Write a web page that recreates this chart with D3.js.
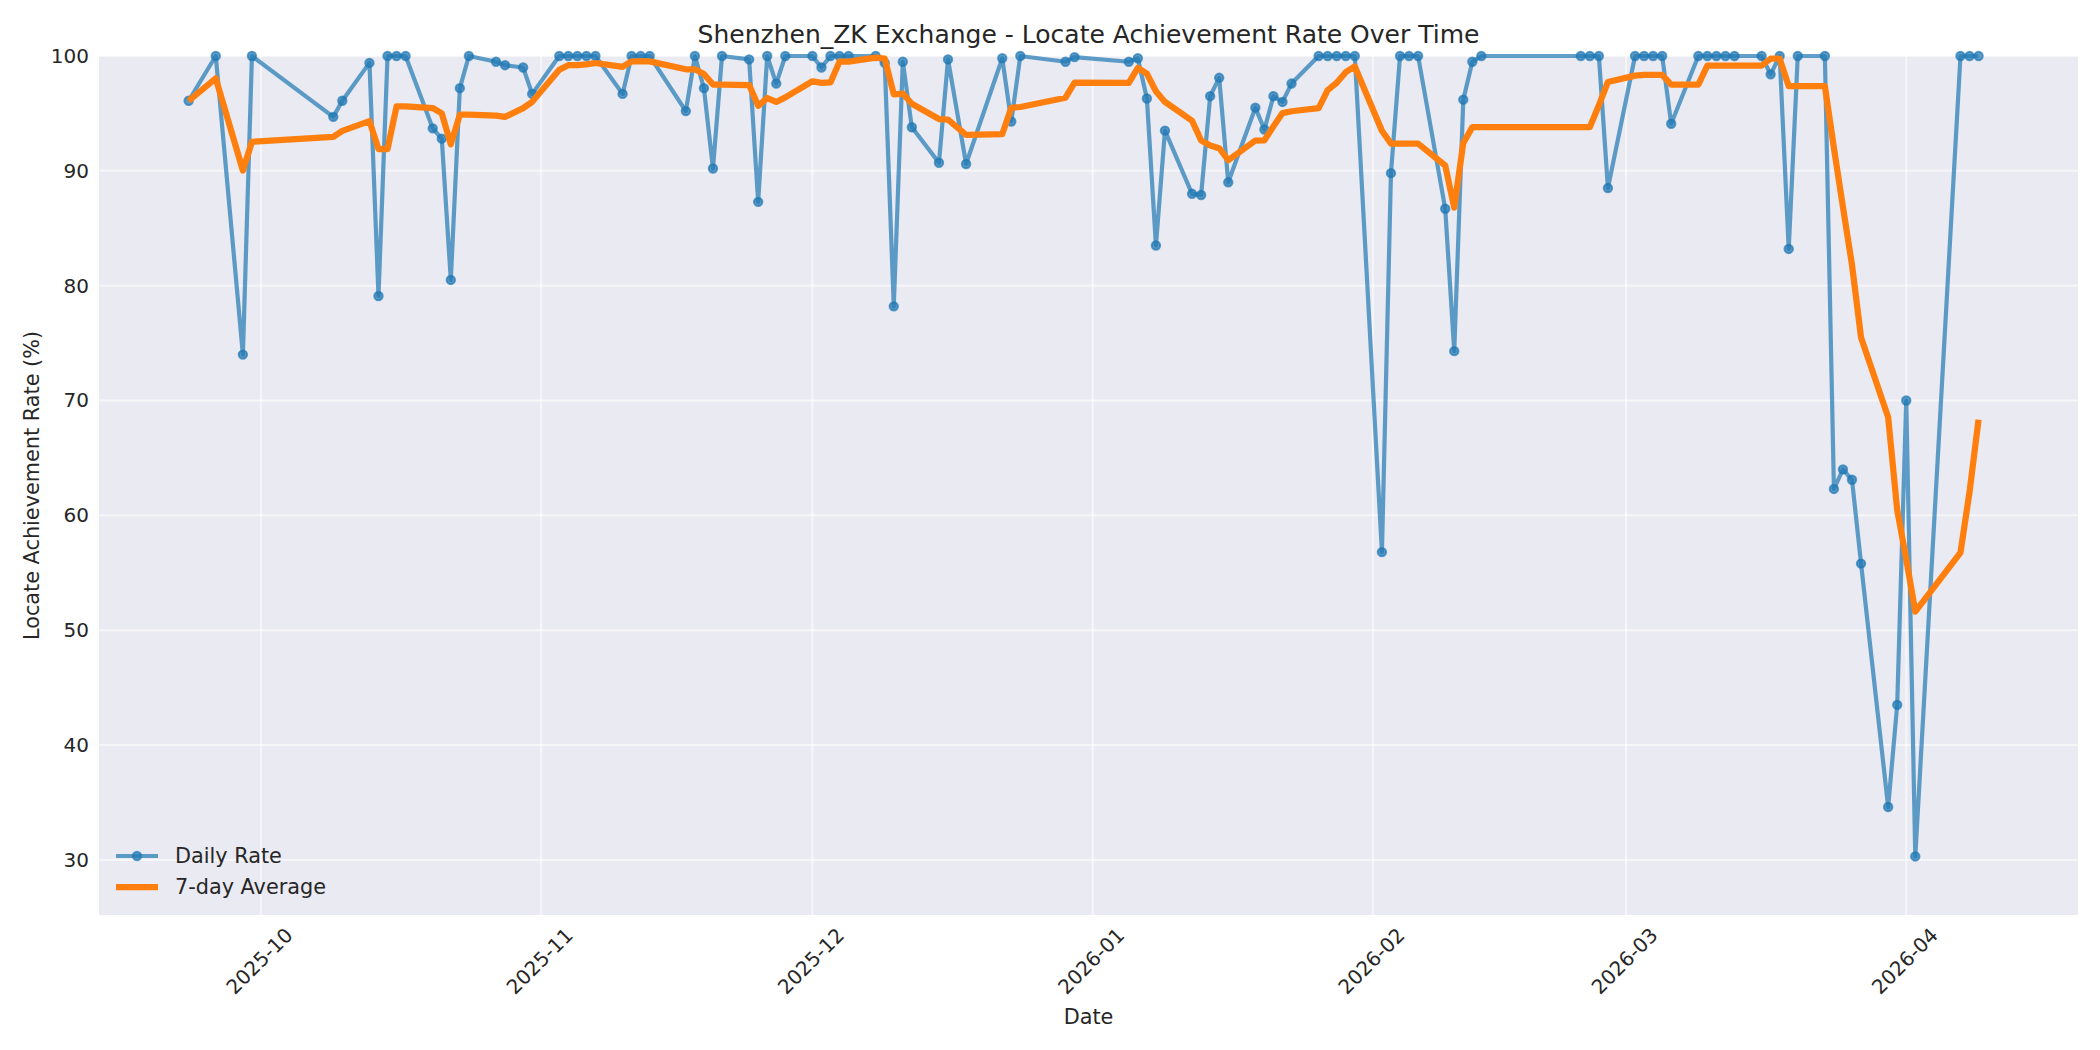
<!DOCTYPE html>
<html>
<head>
<meta charset="utf-8">
<script src="https://cdn.jsdelivr.net/npm/d3@7"></script>
<style>
  body { margin: 0; background: #ffffff; }
  text { font-family: "DejaVu Sans", sans-serif; fill: #262626; }
</style>
</head>
<body>
<div id="graf"></div>
<script>
// Datos
const fechas = [
  "2025-09-23","2025-09-26","2025-09-29","2025-09-30","2025-10-09","2025-10-10","2025-10-13","2025-10-14",
  "2025-10-15","2025-10-16","2025-10-17","2025-10-20","2025-10-21","2025-10-22","2025-10-23","2025-10-24",
  "2025-10-27","2025-10-28","2025-10-30","2025-10-31","2025-11-03","2025-11-04","2025-11-05","2025-11-06",
  "2025-11-07","2025-11-10","2025-11-11","2025-11-12","2025-11-13","2025-11-17","2025-11-18","2025-11-19",
  "2025-11-20","2025-11-21","2025-11-24","2025-11-25","2025-11-26","2025-11-27","2025-11-28","2025-12-01",
  "2025-12-02","2025-12-03","2025-12-04","2025-12-05","2025-12-08","2025-12-09","2025-12-10","2025-12-11",
  "2025-12-12","2025-12-15","2025-12-16","2025-12-18","2025-12-22","2025-12-23","2025-12-24","2025-12-29",
  "2025-12-30","2026-01-05","2026-01-06","2026-01-07","2026-01-08","2026-01-09","2026-01-12","2026-01-13",
  "2026-01-14","2026-01-15","2026-01-16","2026-01-19","2026-01-20","2026-01-21","2026-01-22","2026-01-23",
  "2026-01-26","2026-01-27","2026-01-28","2026-01-29","2026-01-30","2026-02-02","2026-02-03","2026-02-04",
  "2026-02-05","2026-02-06","2026-02-09","2026-02-10","2026-02-11","2026-02-12","2026-02-13","2026-02-24",
  "2026-02-25","2026-02-26","2026-02-27","2026-03-02","2026-03-03","2026-03-04","2026-03-05","2026-03-06",
  "2026-03-09","2026-03-10","2026-03-11","2026-03-12","2026-03-13","2026-03-16","2026-03-17","2026-03-18",
  "2026-03-19","2026-03-20","2026-03-23","2026-03-24","2026-03-25","2026-03-26","2026-03-27","2026-03-30",
  "2026-03-31","2026-04-01","2026-04-02","2026-04-07","2026-04-08","2026-04-09"
];

const tasaDiaria = [
  96.1, 100, 74.0, 100, 94.7, 96.1, 99.4, 79.1,
  100, 100, 100, 93.7, 92.8, 80.5, 97.2, 100,
  99.5, 99.2, 99.0, 96.7, 100, 100, 100, 100,
  100, 96.7, 100, 100, 100, 95.2, 100, 97.2,
  90.2, 100, 99.7, 87.3, 100, 97.6, 100, 100,
  99.0, 100, 100, 100, 100, 99.4, 78.2, 99.5,
  93.8, 90.7, 99.7, 90.6, 99.8, 94.3, 100, 99.5,
  99.9, 99.5, 99.8, 96.3, 83.5, 93.5, 88.0, 87.9,
  96.5, 98.1, 89.0, 95.5, 93.6, 96.5, 96.0, 97.6,
  100, 100, 100, 100, 100, 56.8, 89.8, 100,
  100, 100, 86.7, 74.3, 96.2, 99.5, 100, 100,
  100, 100, 88.5, 100, 100, 100, 100, 94.1,
  100, 100, 100, 100, 100, 100, 98.4, 100,
  83.2, 100, 100, 62.3, 64.0, 63.1, 55.8, 34.6,
  43.5, 70.0, 30.3, 100, 100, 100
];

const promedio7 = [
  96.10, 98.05, 90.03, 92.53, 92.96, 93.48, 94.33, 91.90,
  91.90, 95.61, 95.61, 95.47, 95.00, 92.30, 94.89, 94.89,
  94.81, 94.70, 95.46, 96.01, 98.80, 99.20, 99.20, 99.27,
  99.39, 99.06, 99.53, 99.53, 99.53, 98.84, 98.84, 98.44,
  97.51, 97.51, 97.47, 95.66, 96.34, 96.00, 96.40, 97.80,
  97.66, 97.70, 99.51, 99.51, 99.86, 99.77, 96.66, 96.73,
  95.84, 94.51, 94.47, 93.13, 93.19, 95.49, 95.56, 96.37,
  97.69, 97.66, 98.97, 98.47, 96.93, 96.00, 94.36, 92.64,
  92.21, 91.97, 90.93, 92.64, 92.66, 93.87, 95.03, 95.19,
  95.46, 97.03, 97.67, 98.59, 99.09, 93.49, 92.37, 92.37,
  92.37, 92.37, 90.47, 86.80, 92.43, 93.81, 93.81, 93.81,
  93.81, 95.71, 97.74, 98.29, 98.36, 98.36, 98.36, 97.51,
  97.51, 99.16, 99.16, 99.16, 99.16, 99.16, 99.77, 99.77,
  97.37, 97.37, 97.37, 91.99, 86.84, 81.80, 75.49, 68.54,
  60.47, 56.19, 51.61, 56.76, 62.03, 68.34
];

const yTicks = [30, 40, 50, 60, 70, 80, 90, 100];
const xTicks = ["2025-10-01","2025-11-01","2025-12-01","2026-01-01","2026-02-01","2026-03-01","2026-04-01"];
const limitesX = ["2025-09-13T02:00", "2026-04-20T00:00"];
const limitesY = [25.2, 100];

// Dimensiones
const anchoTotal = 2100;
const altoTotal = 1050;
const margins = { top: 56, right: 22, bottom: 135, left: 99 };
const ancho = anchoTotal - margins.left - margins.right;
const alto = altoTotal - margins.top - margins.bottom;

const parseFecha = d3.utcParse("%Y-%m-%d");
const parseLimite = d3.utcParse("%Y-%m-%dT%H:%M");

const data = fechas.map((f, i) => ({
  fecha: parseFecha(f),
  tasa: tasaDiaria[i],
  prom: promedio7[i]
}));

// Accessors
const xAccessor = (d) => d.fecha;

// Escaladores
const x = d3.scaleUtc()
  .domain(limitesX.map(parseLimite))
  .range([0, ancho]);

const y = d3.scaleLinear()
  .domain(limitesY)
  .range([alto, 0]);

const svg = d3.select("#graf")
  .append("svg")
  .attr("width", anchoTotal)
  .attr("height", altoTotal);

const g = svg.append("g")
  .attr("transform", `translate(${margins.left}, ${margins.top})`);

// fondo estilo darkgrid
g.append("rect")
  .attr("width", ancho)
  .attr("height", alto)
  .attr("fill", "#eaeaf2");

// rejilla
const rejilla = g.append("g");
rejilla.selectAll("line.gy")
  .data(yTicks)
  .join("line")
  .attr("x1", 0)
  .attr("x2", ancho)
  .attr("y1", (d) => y(d))
  .attr("y2", (d) => y(d))
  .attr("stroke", "#ffffff")
  .attr("stroke-opacity", 0.55)
  .attr("stroke-width", 2);

rejilla.selectAll("line.gx")
  .data(xTicks.map(parseFecha))
  .join("line")
  .attr("x1", (d) => x(d))
  .attr("x2", (d) => x(d))
  .attr("y1", 0)
  .attr("y2", alto)
  .attr("stroke", "#ffffff")
  .attr("stroke-opacity", 0.55)
  .attr("stroke-width", 2);

// Ejes
const xAxis = d3.axisBottom(x)
  .tickValues(xTicks.map(parseFecha))
  .tickFormat(d3.utcFormat("%Y-%m"))
  .tickSize(0)
  .tickPadding(0);

const yAxis = d3.axisLeft(y)
  .tickValues(yTicks)
  .tickSize(0)
  .tickPadding(10);

const xAxisGroup = g.append("g")
  .attr("transform", `translate(0, ${alto})`)
  .call(xAxis);
xAxisGroup.select(".domain").remove();
xAxisGroup.selectAll("text")
  .attr("style", "font-size:20px")
  .attr("fill", "#262626")
  .attr("text-anchor", "middle")
  .attr("dy", null)
  .attr("y", 0)
  .attr("transform", "translate(-2, 46) rotate(-45)")
  .attr("dominant-baseline", "central");

const yAxisGroup = g.append("g").call(yAxis);
yAxisGroup.select(".domain").remove();
yAxisGroup.selectAll("text")
  .attr("style", "font-size:20px")
  .attr("fill", "#262626");

// Linea diaria
const lineaDiaria = d3.line()
  .x((d) => x(xAccessor(d)))
  .y((d) => y(d.tasa));

const lineaProm = d3.line()
  .x((d) => x(xAccessor(d)))
  .y((d) => y(d.prom));

const serie = g.append("g");
serie.append("path")
  .datum(data)
  .attr("d", lineaDiaria)
  .attr("fill", "none")
  .attr("stroke", "#1f77b4")
  .attr("stroke-opacity", 0.7)
  .attr("stroke-width", 4.2)
  .attr("stroke-linejoin", "round");

serie.selectAll("circle")
  .data(data)
  .join("circle")
  .attr("cx", (d) => x(xAccessor(d)))
  .attr("cy", (d) => y(d.tasa))
  .attr("r", 4.2)
  .attr("fill", "#1f77b4")
  .attr("fill-opacity", 0.7)
  .attr("stroke", "#1f77b4")
  .attr("stroke-opacity", 0.7)
  .attr("stroke-width", 2);

g.append("path")
  .datum(data)
  .attr("d", lineaProm)
  .attr("fill", "none")
  .attr("stroke", "#ff7f0e")
  .attr("stroke-width", 6.25)
  .attr("stroke-linejoin", "round");

// Titulos
g.append("text")
  .attr("x", ancho / 2)
  .attr("y", -13)
  .attr("text-anchor", "middle")
  .attr("style", "font-size:25px")
  .text("Shenzhen_ZK Exchange - Locate Achievement Rate Over Time");

g.append("text")
  .attr("x", ancho / 2)
  .attr("y", alto + 109)
  .attr("text-anchor", "middle")
  .attr("style", "font-size:20.8px")
  .text("Date");

g.append("text")
  .attr("transform", `translate(${32 - margins.left}, ${alto / 2}) rotate(-90)`)
  .attr("text-anchor", "middle")
  .attr("dominant-baseline", "central")
  .attr("style", "font-size:20.8px")
  .text("Locate Achievement Rate (%)");

// Leyenda
const leyenda = g.append("g")
  .attr("transform", `translate(${116 - margins.left}, ${856 - margins.top})`);

const itemDiario = leyenda.append("g");
itemDiario.append("line")
  .attr("x1", 0).attr("x2", 42).attr("y1", 0).attr("y2", 0)
  .attr("stroke", "#1f77b4").attr("stroke-opacity", 0.7).attr("stroke-width", 4.2);
itemDiario.append("circle")
  .attr("cx", 21).attr("cy", 0).attr("r", 4.2)
  .attr("fill", "#1f77b4").attr("fill-opacity", 0.7)
  .attr("stroke", "#1f77b4").attr("stroke-opacity", 0.7).attr("stroke-width", 2);
itemDiario.append("text")
  .attr("x", 59).attr("y", 0)
  .attr("dominant-baseline", "central")
  .attr("style", "font-size:20.8px")
  .text("Daily Rate");

const itemProm = leyenda.append("g").attr("transform", "translate(0, 31)");
itemProm.append("line")
  .attr("x1", 0).attr("x2", 42).attr("y1", 0).attr("y2", 0)
  .attr("stroke", "#ff7f0e").attr("stroke-width", 6.25);
itemProm.append("text")
  .attr("x", 59).attr("y", 0)
  .attr("dominant-baseline", "central")
  .attr("style", "font-size:20.8px")
  .text("7-day Average");
</script>
</body>
</html>
